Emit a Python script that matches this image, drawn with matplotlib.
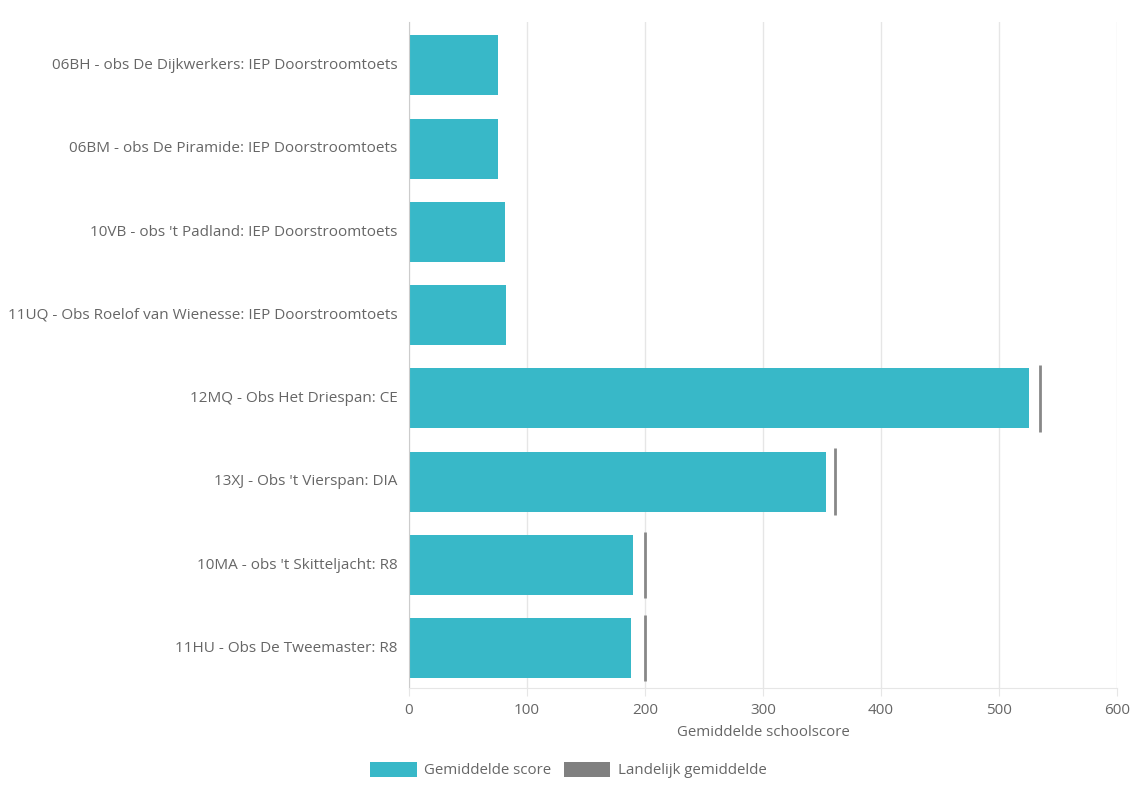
import matplotlib.pyplot as plt
from matplotlib.patches import Patch
import numpy as np

plt.rcParams['font.family'] = ['Open Sans', 'DejaVu Sans']

# data
schools = [
    "06BH - obs De Dijkwerkers: IEP Doorstroomtoets",
    "06BM - obs De Piramide: IEP Doorstroomtoets",
    "10VB - obs 't Padland: IEP Doorstroomtoets",
    "11UQ - Obs Roelof van Wienesse: IEP Doorstroomtoets",
    "12MQ - Obs Het Driespan: CE",
    "13XJ - Obs 't Vierspan: DIA",
    "10MA - obs 't Skitteljacht: R8",
    "11HU - Obs De Tweemaster: R8",
]
school_score = [75.5, 75.0, 81.0, 82.5, 525.5, 353.5, 190.0, 188.5]
national_avg = [np.nan, np.nan, np.nan, np.nan, 535.0, 361.0, 200.0, 200.0]
x_ticks = [0, 100, 200, 300, 400, 500, 600]

bar_color = '#38b8c8'
avg_color = '#888888'
text_color = '#666666'

fig = plt.figure(figsize=(11.3, 7.89), dpi=100)
ax = fig.add_axes([0.362, 0.128, 0.6265, 0.844])

y = np.arange(len(schools))
ax.barh(y + 0.02, school_score, height=0.72, color=bar_color, zorder=2)
for i, v in enumerate(national_avg):
    if not np.isnan(v):
        ax.vlines(v, i - 0.38, i + 0.42, color=avg_color, linewidth=2, zorder=3)

ax.set_xlim(0, 600)
ax.set_ylim(len(schools) - 0.5, -0.5)
ax.set_xticks(x_ticks)
ax.set_yticks(y)
ax.set_yticklabels(schools)
ax.grid(axis='x', color='#e6e6e6', linewidth=1, zorder=0)
ax.set_axisbelow(True)

for s in ['top', 'right']:
    ax.spines[s].set_visible(False)
ax.spines['left'].set_color('#cccccc')
ax.spines['bottom'].set_color('#e6e6e6')
ax.tick_params(axis='y', length=0, pad=8.5, labelsize=11, labelcolor=text_color)
ax.tick_params(axis='x', length=6, color='#e6e6e6', pad=5, labelsize=11, labelcolor=text_color)
ax.set_xlabel('Gemiddelde schoolscore', fontsize=10.8, color=text_color, labelpad=5)

handles = [Patch(facecolor=bar_color, label='Gemiddelde score'),
           Patch(facecolor='#808080', label='Landelijk gemiddelde')]
fig.legend(handles=handles, loc='center', bbox_to_anchor=(0.503, 0.024), ncol=2,
           frameon=False, fontsize=10.8, labelcolor=text_color,
           handlelength=3.1, handleheight=1.2, handletextpad=0.5, columnspacing=0.8)

fig.savefig('out.png', dpi=100, facecolor='white')
